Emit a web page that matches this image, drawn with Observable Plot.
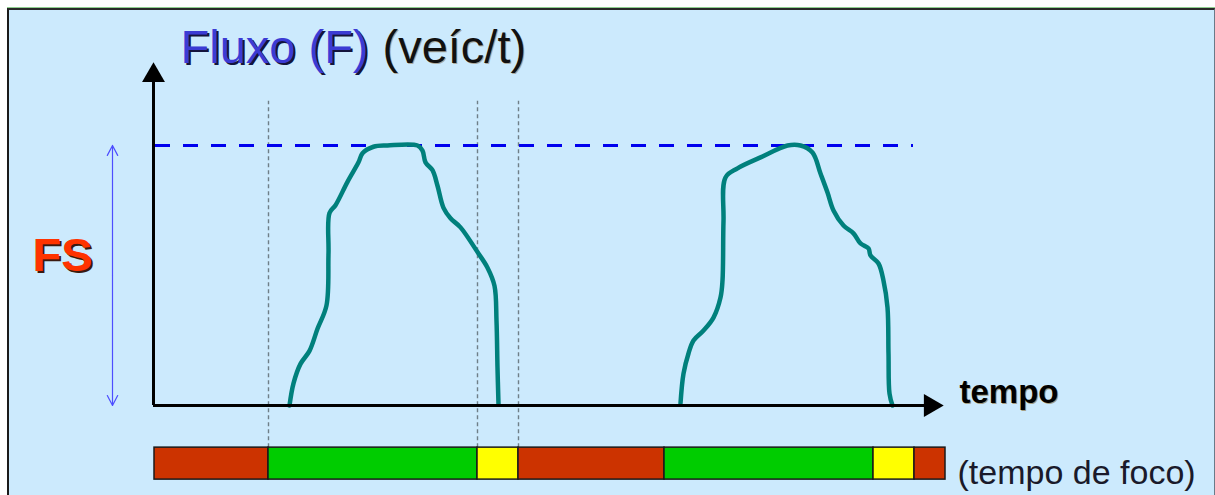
<!DOCTYPE html>
<html>
<head>
<meta charset="utf-8">
<script src="https://cdn.jsdelivr.net/npm/d3@7"></script>
<script src="https://cdn.jsdelivr.net/npm/@observablehq/plot@0.6"></script>
<style>
  html, body { margin: 0; padding: 0; background: #ffffff; overflow: hidden; }
  #frame {
    position: absolute; left: 7px; top: 8px; width: 1208px; height: 487px;
    box-sizing: border-box; background: #cceafd;
    border-left: 2px solid #1a1a1a; border-top: 2px solid #2a2a2a; border-right: 1px solid #6a7a88;
    box-shadow: 0 -1px 0 #8fcf8f;
  }
  #chart { position: absolute; left: 0; top: 0; }
</style>
</head>
<body>
<div id="frame"></div>
<div id="chart"></div>
<script>
// ---- data (time in arbitrary units, flow in % of saturation flow FS) ----
const FS = 100;
const yAxisTop = 131.9;
const xAxisEnd = 790;

const curve1T = [136, 140, 147, 156, 164, 173, 175, 176, 182, 194, 205, 209, 220, 234, 264, 269, 272, 279, 284, 290, 297, 307, 324, 334, 341, 343, 344, 345];
const curve1F = [0, 8.5, 16, 21, 29.5, 38.5, 58.5, 74, 77, 86, 93.5, 97, 99.5, 100, 100, 98, 93.5, 90.5, 84.5, 76, 72, 68.5, 59, 53, 46, 32.5, 14.5, 0.5];

const curve2T = [527, 530, 535, 540, 550, 560, 567, 569, 570, 572, 584, 607, 634, 647, 659, 667, 674, 680, 690, 700, 707, 715, 717, 725, 730, 734, 735, 736, 739];
const curve2F = [0.8, 12.3, 20, 25, 28.8, 33.8, 41.5, 48, 71, 87.7, 91.2, 95.4, 100, 100, 97.3, 89.2, 81.9, 75, 69.2, 66.2, 62.3, 60.4, 57.7, 54.6, 48, 37.7, 20, 4.6, 0];

const phaseNames = ["vermelho", "verde", "amarelo", "vermelho", "verde", "amarelo", "vermelho"];
const phaseStart = [1, 115, 324, 365, 511, 720, 761];
const phaseEnd   = [115, 324, 365, 511, 720, 761, 792];
const phaseColors = ["#cc3300", "#00cc00", "#ffff00"];
const guideTimes = [115, 324, 365];

const titleMain = "Fluxo (F)";
const titleUnit = "(veíc/t)";
const fsLabel = "FS";
const xLabel = "tempo";
const barLabel = "(tempo de foco)";

// ---- build tables ----
const curves = [
  ...curve1T.map((t, i) => ({id: 1, t, f: curve1F[i]})),
  ...curve2T.map((t, i) => ({id: 2, t, f: curve2F[i]}))
];
const phases = phaseNames.map((p, i) => ({phase: p, start: phaseStart[i], end: phaseEnd[i]}));

const barTop = -16.2, barBottom = -28.5;
const fsArrowX = -41;

const font = "'Liberation Sans', Arial, sans-serif";

const chart = Plot.plot({
  width: 1215,
  height: 495,
  marginLeft: 153,
  marginRight: 272,
  marginTop: 62,
  marginBottom: 90,
  x: {domain: [0, xAxisEnd], axis: null},
  y: {domain: [0, yAxisTop], axis: null},
  color: {domain: ["vermelho", "verde", "amarelo"], range: phaseColors},
  style: {background: "transparent", overflow: "visible", fontFamily: font},
  marks: [
    // dotted guides at the first cycle's phase changes
    Plot.ruleX(guideTimes, {y1: barTop, y2: 117, stroke: "#6f7f88", strokeWidth: 1.4, strokeDasharray: "4,3"}),
    // saturation flow dashed line
    Plot.ruleY([FS], {x1: 2, x2: 760, stroke: "#0000ee", strokeWidth: 3, strokeDasharray: "15,13"}),
    // flow curves
    Plot.line(curves, {x: "t", y: "f", z: "id", stroke: "#00807c", strokeWidth: 4.5, curve: "catmull-rom", strokeLinejoin: "round", strokeLinecap: "round"}),
    // axes
    Plot.ruleX([0], {y1: 0, y2: yAxisTop - 4, stroke: "#000", strokeWidth: 3}),
    Plot.ruleY([0], {x1: 0, x2: xAxisEnd - 12, stroke: "#000", strokeWidth: 3}),
    Plot.dot([{x: 0, y: yAxisTop - 5}], {x: "x", y: "y", symbol: "triangle", r: 8.5, fill: "#000", stroke: null, rotate: 0}),
    Plot.dot([{x: xAxisEnd - 13, y: 0}], {x: "x", y: "y", symbol: "triangle", r: 8.5, fill: "#000", stroke: null, rotate: 90}),
    // FS double arrow
    Plot.arrow([{y1: FS / 2, y2: 0}, {y1: FS / 2, y2: FS}], {x1: fsArrowX, x2: fsArrowX, y1: "y1", y2: "y2", stroke: "#4d4dff", strokeWidth: 1.2, headLength: 14, headAngle: 55}),
    // timing bar
    Plot.rect(phases, {x1: "start", x2: "end", y1: barBottom, y2: barTop, fill: "phase", stroke: "#1a1a1a", strokeWidth: 1.5}),
    // texts
    Plot.text([titleMain], {x: 27, y: yAxisTop, text: d => d, dx: 2, dy: 2, textAnchor: "start", lineAnchor: "bottom", fontSize: 47, fill: "#14143c"}),
    Plot.text([titleMain], {x: 27, y: yAxisTop, text: d => d, textAnchor: "start", lineAnchor: "bottom", fontSize: 47, fill: "#3b3bd4"}),
    Plot.text([titleUnit], {x: 229, y: yAxisTop, text: d => d, dx: 1, dy: 1, textAnchor: "start", lineAnchor: "bottom", fontSize: 47, fill: "#8a6a40", fillOpacity: 0.5}),
    Plot.text([titleUnit], {x: 229, y: yAxisTop, text: d => d, textAnchor: "start", lineAnchor: "bottom", fontSize: 47, fill: "#111"}),
    Plot.text([fsLabel], {x: -91, y: 57.7, text: d => d, dx: 2, dy: 2, fontSize: 47, fontWeight: "bold", fill: "#3a1a10"}),
    Plot.text([fsLabel], {x: -91, y: 57.7, text: d => d, fontSize: 47, fontWeight: "bold", fill: "#ff3300"}),
    Plot.text([xLabel], {x: 806, y: 0.8, text: d => d, dx: 1, dy: 1, textAnchor: "start", lineAnchor: "bottom", fontSize: 33, fontWeight: "bold", fill: "#8a6a30", fillOpacity: 0.6}),
    Plot.text([xLabel], {x: 806, y: 0.8, text: d => d, textAnchor: "start", lineAnchor: "bottom", fontSize: 33, fontWeight: "bold", fill: "#000"}),
    Plot.text([barLabel], {x: 804, y: -30, text: d => d, textAnchor: "start", lineAnchor: "bottom", fontSize: 34, fill: "#1a1a2a"})
  ]
});
document.getElementById("chart").appendChild(chart);
</script>
</body>
</html>
